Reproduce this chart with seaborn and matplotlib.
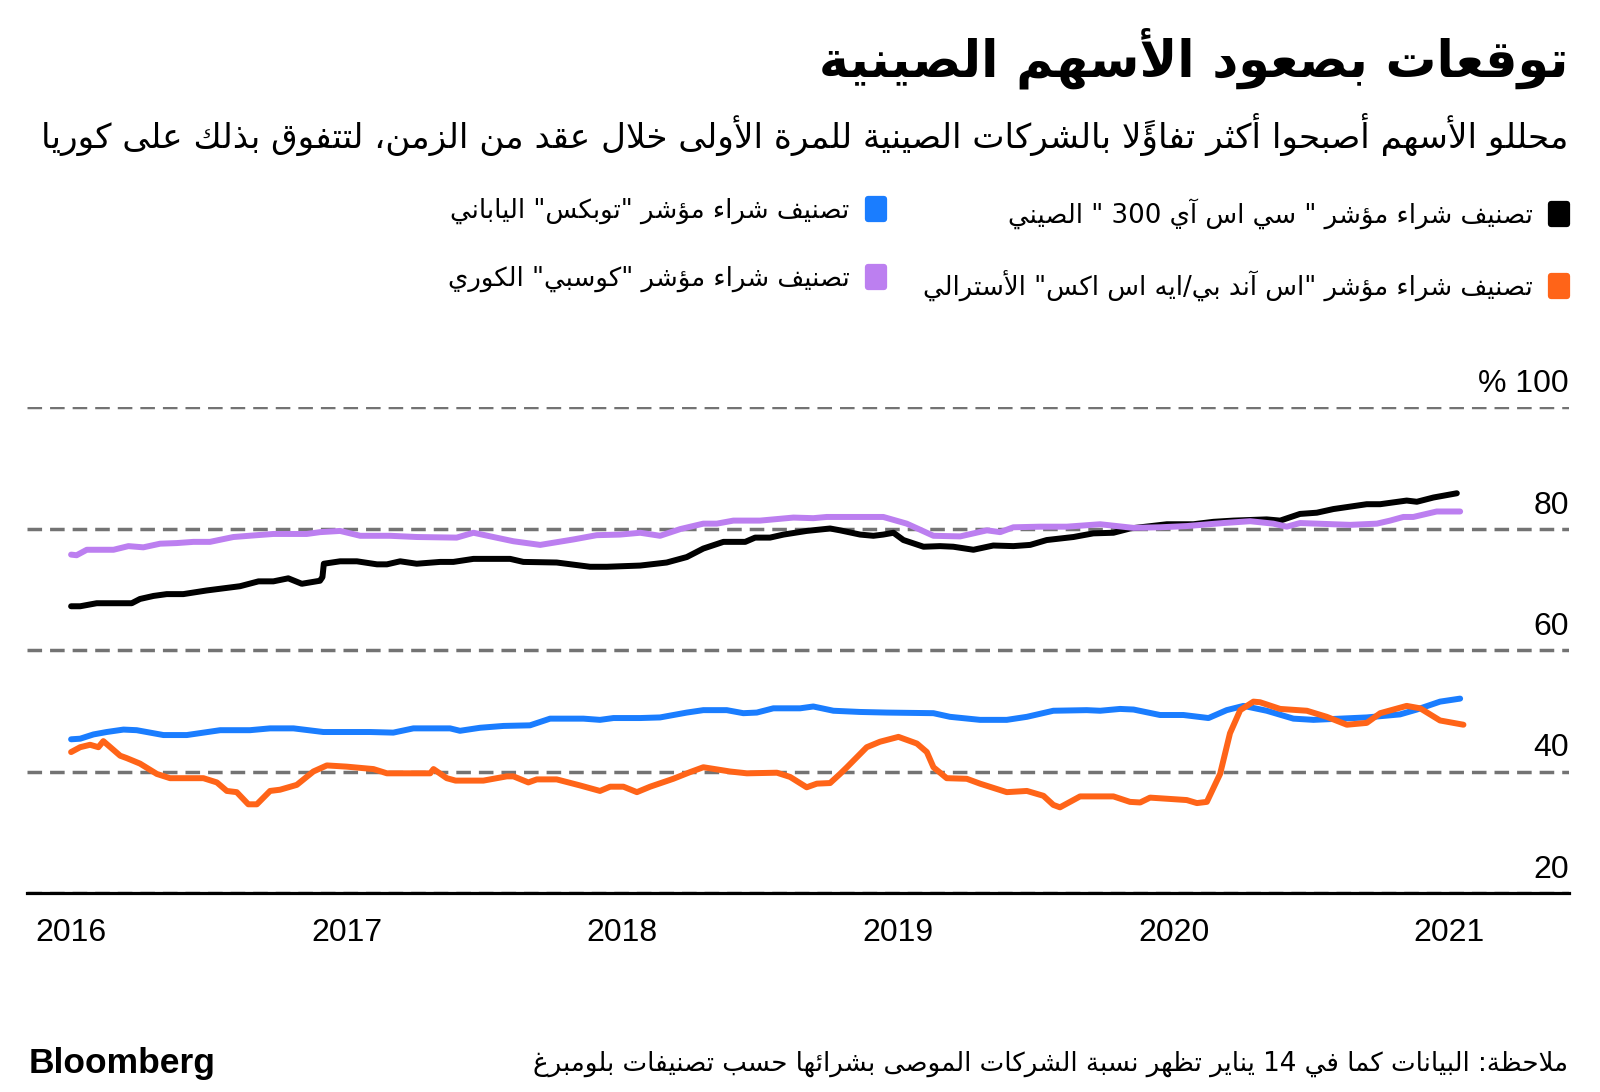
import pandas as pd
import seaborn as sns
import matplotlib.pyplot as plt
import matplotlib.transforms as mtransforms
from matplotlib.lines import Line2D
from matplotlib.markers import MarkerStyle

# ---- data (share of buy ratings, %; x in decimal years) ----
china_t = [2016.0, 2016.033, 2016.093, 2016.220, 2016.250, 2016.299, 2016.347, 2016.407, 2016.492, 2016.613,
           2016.680, 2016.734, 2016.788, 2016.837, 2016.903, 2016.912, 2016.917, 2016.976, 2017.037, 2017.110,
           2017.146, 2017.194, 2017.254, 2017.339, 2017.387, 2017.460, 2017.593, 2017.641, 2017.762, 2017.883,
           2017.944, 2018.065, 2018.161, 2018.234, 2018.294, 2018.367, 2018.446, 2018.482, 2018.536, 2018.585,
           2018.669, 2018.754, 2018.790, 2018.863, 2018.911, 2018.947, 2018.984, 2019.020, 2019.093, 2019.153,
           2019.201, 2019.274, 2019.346, 2019.419, 2019.480, 2019.540, 2019.637, 2019.709, 2019.782, 2019.842,
           2019.976, 2020.072, 2020.145, 2020.217, 2020.338, 2020.387, 2020.459, 2020.520, 2020.580, 2020.701,
           2020.750, 2020.846, 2020.883, 2020.943, 2021.028]
china_v = [67.2, 67.2, 67.7, 67.7, 68.4, 68.9, 69.2, 69.2, 69.8, 70.5,
           71.3, 71.3, 71.8, 70.9, 71.4, 72.0, 74.2, 74.6, 74.6, 74.1,
           74.1, 74.6, 74.2, 74.5, 74.5, 75.0, 75.0, 74.5, 74.4, 73.7,
           73.7, 73.9, 74.4, 75.3, 76.7, 77.8, 77.8, 78.5, 78.5, 79.0,
           79.6, 80.0, 79.7, 79.0, 78.8, 79.0, 79.3, 78.1, 77.0, 77.1,
           77.0, 76.5, 77.2, 77.1, 77.3, 78.1, 78.6, 79.2, 79.3, 80.0,
           80.7, 80.7, 81.1, 81.3, 81.5, 81.3, 82.4, 82.6, 83.2, 84.0,
           84.0, 84.6, 84.4, 85.1, 85.8]

japan_t = [2016.0, 2016.033, 2016.081, 2016.129, 2016.190, 2016.238, 2016.335, 2016.420, 2016.541, 2016.649,
           2016.722, 2016.807, 2016.915, 2017.085, 2017.169, 2017.242, 2017.375, 2017.411, 2017.484, 2017.569,
           2017.665, 2017.738, 2017.859, 2017.919, 2017.968, 2018.065, 2018.137, 2018.234, 2018.294, 2018.379,
           2018.439, 2018.488, 2018.548, 2018.645, 2018.693, 2018.766, 2018.863, 2018.960, 2019.129, 2019.189,
           2019.298, 2019.395, 2019.468, 2019.564, 2019.685, 2019.734, 2019.806, 2019.855, 2019.951, 2020.036,
           2020.127, 2020.193, 2020.254, 2020.338, 2020.435, 2020.508, 2020.701, 2020.822, 2020.883, 2020.967,
           2021.040]
japan_v = [45.3, 45.4, 46.1, 46.5, 46.9, 46.8, 46.0, 46.0, 46.8, 46.8,
           47.1, 47.1, 46.5, 46.5, 46.4, 47.1, 47.1, 46.7, 47.2, 47.5,
           47.6, 48.7, 48.7, 48.5, 48.8, 48.8, 48.9, 49.7, 50.1, 50.1,
           49.6, 49.7, 50.4, 50.4, 50.7, 50.0, 49.8, 49.7, 49.6, 49.0,
           48.5, 48.5, 49.0, 50.0, 50.1, 50.0, 50.3, 50.2, 49.3, 49.3,
           48.8, 50.1, 50.8, 50.0, 48.7, 48.5, 48.9, 49.4, 50.2, 51.5,
           52.0]

korea_t = [2016.0, 2016.020, 2016.057, 2016.154, 2016.208, 2016.262, 2016.323, 2016.383, 2016.444, 2016.504,
           2016.589, 2016.674, 2016.734, 2016.855, 2016.903, 2016.976, 2017.049, 2017.157, 2017.254, 2017.399,
           2017.460, 2017.532, 2017.605, 2017.702, 2017.823, 2017.907, 2017.992, 2018.065, 2018.137, 2018.210,
           2018.294, 2018.343, 2018.403, 2018.500, 2018.621, 2018.693, 2018.742, 2018.863, 2018.947, 2019.032,
           2019.129, 2019.226, 2019.323, 2019.371, 2019.419, 2019.516, 2019.613, 2019.734, 2019.855, 2019.951,
           2020.048, 2020.181, 2020.278, 2020.362, 2020.411, 2020.459, 2020.580, 2020.641, 2020.738, 2020.786,
           2020.834, 2020.870, 2020.955, 2021.040]
korea_v = [75.7, 75.6, 76.5, 76.5, 77.1, 76.9, 77.5, 77.6, 77.8, 77.8,
           78.6, 78.9, 79.1, 79.1, 79.4, 79.6, 78.8, 78.8, 78.6, 78.5,
           79.3, 78.6, 77.9, 77.3, 78.2, 78.9, 79.0, 79.3, 78.8, 79.9,
           80.8, 80.8, 81.3, 81.3, 81.8, 81.7, 81.9, 81.9, 81.9, 80.8,
           78.8, 78.7, 79.7, 79.4, 80.2, 80.3, 80.3, 80.7, 80.1, 80.2,
           80.4, 80.9, 81.2, 80.8, 80.3, 80.9, 80.7, 80.6, 80.8, 81.3,
           81.9, 81.9, 82.8, 82.8]

aus_t = [2016.0, 2016.033, 2016.069, 2016.099, 2016.117, 2016.178, 2016.202, 2016.250, 2016.311, 2016.359,
         2016.480, 2016.529, 2016.565, 2016.601, 2016.643, 2016.674, 2016.722, 2016.758, 2016.819, 2016.879,
         2016.928, 2017.000, 2017.097, 2017.146, 2017.303, 2017.315, 2017.363, 2017.395, 2017.496, 2017.581,
         2017.605, 2017.659, 2017.690, 2017.762, 2017.847, 2017.919, 2017.956, 2018.004, 2018.053, 2018.101,
         2018.185, 2018.246, 2018.294, 2018.391, 2018.452, 2018.561, 2018.609, 2018.669, 2018.706, 2018.754,
         2018.790, 2018.815, 2018.863, 2018.887, 2018.935, 2019.002, 2019.069, 2019.105, 2019.129, 2019.177,
         2019.250, 2019.298, 2019.395, 2019.468, 2019.528, 2019.564, 2019.588, 2019.661, 2019.782, 2019.842,
         2019.879, 2019.915, 2020.048, 2020.085, 2020.121, 2020.169, 2020.205, 2020.242, 2020.290, 2020.314,
         2020.387, 2020.484, 2020.556, 2020.629, 2020.701, 2020.750, 2020.846, 2020.895, 2020.967, 2021.052]
aus_v = [43.2, 44.0, 44.4, 44.0, 45.0, 42.6, 42.2, 41.3, 39.6, 38.9,
         38.9, 38.2, 36.8, 36.6, 34.6, 34.6, 36.8, 37.0, 37.8, 40.0,
         41.0, 40.8, 40.4, 39.7, 39.7, 40.4, 38.9, 38.5, 38.5, 39.2,
         39.2, 38.2, 38.7, 38.7, 37.7, 36.8, 37.5, 37.5, 36.6, 37.5,
         38.8, 39.9, 40.7, 40.0, 39.7, 39.8, 39.1, 37.4, 38.0, 38.1,
         39.6, 40.7, 42.9, 44.0, 44.9, 45.7, 44.6, 43.2, 40.7, 38.9,
         38.8, 38.0, 36.6, 36.8, 36.0, 34.5, 34.1, 35.9, 35.9, 35.0,
         34.9, 35.7, 35.3, 34.8, 35.0, 39.6, 46.3, 50.1, 51.5, 51.4,
         50.3, 50.0, 49.0, 47.7, 48.0, 49.6, 50.8, 50.4, 48.4, 47.7]

series_names = ['china', 'korea', 'japan', 'australia']
series_labels = {
    'china': 'تصنيف شراء مؤشر " سي اس آي 300 " الصيني',
    'japan': 'تصنيف شراء مؤشر "توبكس" الياباني',
    'australia': 'تصنيف شراء مؤشر "اس آند بي/ايه اس اكس" الأسترالي',
    'korea': 'تصنيف شراء مؤشر "كوسبي" الكوري',
}
colors = {'china': '#000000', 'japan': '#1a7dff', 'korea': '#bc7ff0', 'australia': '#ff6418'}

year_ticks = [2016, 2017, 2018, 2019, 2020, 2021]
y_ticks = [20, 40, 60, 80, 100]
y_tick_labels = ['20', '40', '60', '80', '% 100']

title = 'توقعات بصعود الأسهم الصينية'
subtitle = 'محللو الأسهم أصبحوا أكثر تفاؤلاً بالشركات الصينية للمرة الأولى خلال عقد من الزمن، لتتفوق بذلك على كوريا'
note = 'ملاحظة: البيانات كما في 14 يناير تظهر نسبة الشركات الموصى بشرائها حسب تصنيفات بلومبرغ'


# ---- minimal Arabic shaping + right-to-left ordering (matplotlib does neither) ----
DUAL = {0x0626: 0xFE89, 0x0628: 0xFE8F, 0x062A: 0xFE95, 0x062B: 0xFE99, 0x062C: 0xFE9D, 0x062D: 0xFEA1,
        0x062E: 0xFEA5, 0x0633: 0xFEB1, 0x0634: 0xFEB5, 0x0635: 0xFEB9, 0x0636: 0xFEBD, 0x0637: 0xFEC1,
        0x0638: 0xFEC5, 0x0639: 0xFEC9, 0x063A: 0xFECD, 0x0641: 0xFED1, 0x0642: 0xFED5, 0x0643: 0xFED9,
        0x0644: 0xFEDD, 0x0645: 0xFEE1, 0x0646: 0xFEE5, 0x0647: 0xFEE9, 0x064A: 0xFEF1}
RIGHT = {0x0622: 0xFE81, 0x0623: 0xFE83, 0x0624: 0xFE85, 0x0625: 0xFE87, 0x0627: 0xFE8D, 0x0629: 0xFE93,
         0x062F: 0xFEA9, 0x0630: 0xFEAB, 0x0631: 0xFEAD, 0x0632: 0xFEAF, 0x0648: 0xFEED, 0x0649: 0xFEEF}
LAM_ALEF = {0x0622: 0xFEF5, 0x0623: 0xFEF7, 0x0625: 0xFEF9, 0x0627: 0xFEFB}


def joins_next(u):
    return isinstance(u, str) and len(u) == 1 and ord(u) in DUAL


def joins_prev(u):
    return isinstance(u, tuple) or (len(u) == 1 and (ord(u) in DUAL or ord(u) in RIGHT))


def ar(text):
    units = []
    for ch in text:
        if 0x064B <= ord(ch) <= 0x065F and units:
            units[-1][1] += ch
        elif units and ord(ch) in LAM_ALEF and units[-1][0] == '\u0644':
            units[-1][0] = ('la', ord(ch))
        else:
            units.append([ch, ''])

    shaped = []
    for i, (u, marks) in enumerate(units):
        prev = i > 0 and joins_next(units[i - 1][0])
        nxt = i + 1 < len(units) and joins_prev(units[i + 1][0])
        if isinstance(u, tuple):
            g = chr(LAM_ALEF[u[1]] + (1 if prev else 0))
        elif ord(u) in DUAL:
            base = DUAL[ord(u)]
            if prev and nxt:
                g = chr(base + 3)
            elif prev:
                g = chr(base + 1)
            elif nxt:
                g = chr(base + 2)
            else:
                g = chr(base)
        elif ord(u) in RIGHT:
            g = chr(RIGHT[ord(u)] + (1 if prev else 0))
        elif u == '\u0621':
            g = '\uFE80'
        else:
            g = u
        shaped.append(g + marks)

    out, run = [], []
    for g in reversed(shaped):
        if g.isascii() and g.isalnum():
            run.append(g)
        else:
            if run:
                out.extend(reversed(run))
                run = []
            out.append(g)
    out.extend(reversed(run))
    return ''.join(out)


# ---- build long table ----
frames = []
for name, t, v in [('china', china_t, china_v), ('korea', korea_t, korea_v),
                   ('japan', japan_t, japan_v), ('australia', aus_t, aus_v)]:
    frames.append(pd.DataFrame({'year': t, 'share': v, 'index': name}))
df = pd.concat(frames, ignore_index=True)

sns.set_style('white')
plt.rcParams['font.family'] = ['Liberation Sans', 'DejaVu Sans']
plt.rcParams['text.color'] = 'black'
plt.rcParams['xtick.color'] = 'black'
plt.rcParams['ytick.color'] = 'black'
AR_FONT = 'DejaVu Sans'

fig = plt.figure(figsize=(16, 10.92), dpi=100)
ax = fig.add_axes([27 / 1600, 1 - 893 / 1092, (1569 - 27) / 1600, (893 - 407) / 1092])

sns.lineplot(data=df, x='year', y='share', hue='index', hue_order=series_names,
             palette=colors, linewidth=4.3, legend=False, errorbar=None,
             solid_capstyle='round', solid_joinstyle='round', ax=ax, zorder=3)

ax.set_xlim(2015.84, 2021.435)
ax.set_ylim(20, 100)
ax.set_xlabel('')
ax.set_ylabel('')

ax.set_xticks(year_ticks)
ax.set_xticklabels([str(y) for y in year_ticks])
ax.tick_params(axis='x', direction='out', length=7, width=1.6, color='black',
               labelsize=23, pad=11, labelcolor='black')

ax.set_yticks(y_ticks)
ax.set_yticklabels(y_tick_labels)
ax.yaxis.tick_right()
ax.tick_params(axis='y', length=0, pad=0, labelsize=23, labelright=True, labelleft=False,
               labelcolor='black')
lift = mtransforms.ScaledTranslation(0, 15 / 100, fig.dpi_scale_trans)
for lab in ax.get_yticklabels():
    lab.set_horizontalalignment('right')
    lab.set_verticalalignment('baseline')
    lab.set_transform(lab.get_transform() + lift)

ax.grid(axis='y', color='#737373', linestyle=(0, (4.2, 2.3)), linewidth=2.5)
ax.grid(axis='x', visible=False)
ax.set_axisbelow(True)
for side in ['top', 'left', 'right']:
    ax.spines[side].set_visible(False)
ax.spines['bottom'].set_linewidth(2.3)
ax.spines['bottom'].set_color('black')

# ---- titles ----
fig.text(0.98, 1 - 58 / 1092, ar(title), ha='right', va='center',
         fontsize=36.5, fontweight='bold', family=AR_FONT)
fig.text(0.98, 1 - 135 / 1092, ar(subtitle), ha='right', va='center',
         fontsize=24.7, family=AR_FONT)

# ---- legend: two right-aligned columns, marker to the right of the text ----
def handle(name):
    return Line2D([], [], linestyle='none',
                  marker=MarkerStyle('s', joinstyle='round',
                                     transform=mtransforms.Affine2D().scale(0.85, 1.1)),
                  markersize=13, markeredgewidth=4.5,
                  color=colors[name])


for names, x_right in [(['china', 'australia'], 1569 / 1600), (['japan', 'korea'], 886 / 1600)]:
    leg = fig.legend([handle(n) for n in names], [ar(series_labels[n]) for n in names],
                     loc='upper right', bbox_to_anchor=(x_right, 1 - 198 / 1092),
                     bbox_transform=fig.transFigure, frameon=False, markerfirst=False,
                     handlelength=0.8, handletextpad=0.6, labelspacing=1.6,
                     borderpad=0, borderaxespad=0,
                     prop={'family': AR_FONT, 'size': 18.7})

# ---- footer ----
fig.text(29 / 1600, 1 - 1064 / 1092, 'Bloomberg', ha='left', va='center',
         fontsize=25.5, fontweight='bold', family='Liberation Sans')
fig.text(0.98, 1 - 1064 / 1092, ar(note), ha='right', va='center',
         fontsize=18.8, family=AR_FONT)

fig.savefig('out.png', dpi=100)
